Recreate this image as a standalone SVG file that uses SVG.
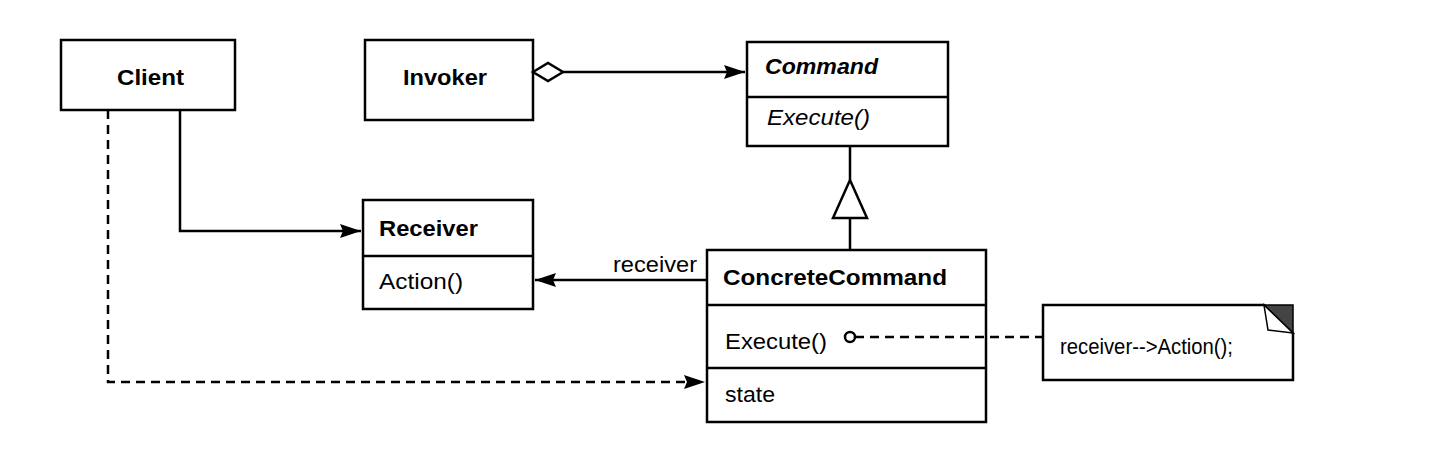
<svg xmlns="http://www.w3.org/2000/svg" width="1441" height="452" viewBox="0 0 1441 452">
<style>
.box{fill:#fff;stroke:#000;stroke-width:2.5}
.ln{fill:none;stroke:#000;stroke-width:2.5}
.dash{fill:none;stroke:#000;stroke-width:2.5;stroke-dasharray:9,6}
.t{font-family:"Liberation Sans",Arial,sans-serif;font-size:22px;fill:#000}
.b{font-weight:bold}
.i{font-style:italic}
</style>
<defs>
<marker id="arrow" markerWidth="22" markerHeight="16" refX="21" refY="8" orient="auto" markerUnits="userSpaceOnUse">
<path d="M0,1 L21,8 L0,15 L3,8 Z" fill="#000"/>
</marker>
</defs>
<rect width="1441" height="452" fill="#fff"/>
<g id="client">
<rect class="box" x="61" y="40" width="174" height="70"/>
<text class="t b" x="117" y="85" textLength="67" lengthAdjust="spacingAndGlyphs">Client</text>
</g>
<g id="invoker">
<rect class="box" x="365" y="40" width="168" height="80"/>
<text class="t b" x="403" y="85" textLength="84" lengthAdjust="spacingAndGlyphs">Invoker</text>
</g>
<g id="command">
<rect class="box" x="747" y="42" width="201" height="104"/>
<line class="ln" x1="747" y1="97" x2="948" y2="97"/>
<text class="t b i" x="765" y="74" textLength="113" lengthAdjust="spacingAndGlyphs">Command</text>
<text class="t i" x="767" y="125" textLength="103" lengthAdjust="spacingAndGlyphs">Execute()</text>
</g>
<g id="receiver">
<rect class="box" x="363" y="200" width="170" height="109"/>
<line class="ln" x1="363" y1="256" x2="533" y2="256"/>
<text class="t b" x="379" y="236" textLength="99" lengthAdjust="spacingAndGlyphs">Receiver</text>
<text class="t" x="379" y="289" textLength="84" lengthAdjust="spacingAndGlyphs">Action()</text>
</g>
<g id="concretecommand">
<rect class="box" x="707" y="250" width="279" height="172"/>
<line class="ln" x1="707" y1="305" x2="986" y2="305"/>
<line class="ln" x1="707" y1="368" x2="986" y2="368"/>
<text class="t b" x="723" y="285" textLength="224" lengthAdjust="spacingAndGlyphs">ConcreteCommand</text>
<text class="t" x="725" y="349" textLength="102" lengthAdjust="spacingAndGlyphs">Execute()</text>
<text class="t" x="725" y="402" textLength="50" lengthAdjust="spacingAndGlyphs">state</text>
</g>
<g id="note">
<path class="box" d="M1043,305 L1264,305 L1293,333 L1293,380 L1043,380 Z"/>
<path d="M1264,305 L1293,305 L1293,333 Z" fill="#444" stroke="#000" stroke-width="1.5"/>
<path d="M1264,305 L1293,333 L1268,330 Z" fill="#fff" stroke="#000" stroke-width="1.5"/>
<text class="t" x="1060" y="354" textLength="173" lengthAdjust="spacingAndGlyphs">receiver--&gt;Action();</text>
</g>
<g id="connectors">
<path class="ln" d="M563,72 L745,72" marker-end="url(#arrow)"/>
<path d="M533,72 L548,63 L563,72 L548,81 Z" fill="#fff" stroke="#000" stroke-width="2.5"/>
<path class="ln" d="M850,146 L850,180"/>
<path d="M850,180 L867,218 L833,218 Z" fill="#fff" stroke="#000" stroke-width="2.5"/>
<path class="ln" d="M850,218 L850,250"/>
<path class="ln" d="M180,110 L180,231 L361,231" marker-end="url(#arrow)"/>
<path class="ln" d="M707,280 L535,280" marker-end="url(#arrow)"/>
<text class="t" x="613" y="272" textLength="84" lengthAdjust="spacingAndGlyphs">receiver</text>
<path class="dash" d="M108,110 L108,382 L705,382" marker-end="url(#arrow)"/>
<path class="dash" d="M855,337 L1043,337"/>
<circle cx="850" cy="337" r="5" fill="#fff" stroke="#000" stroke-width="2.5"/>
</g>
</svg>
